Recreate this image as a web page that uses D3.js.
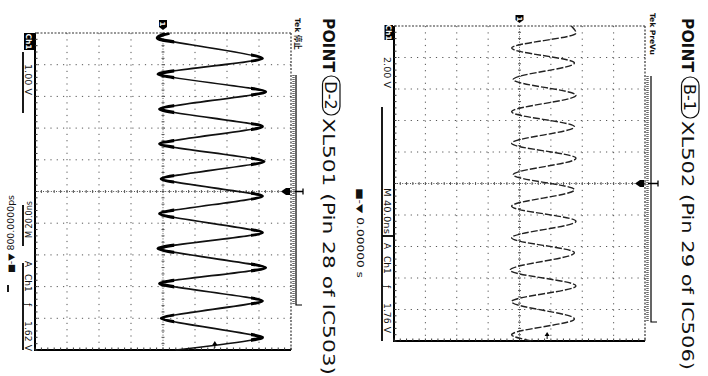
<!DOCTYPE html>
<html><head><meta charset="utf-8">
<script src="https://cdn.jsdelivr.net/npm/d3@7"></script>
<style>html,body{margin:0;padding:0;background:#fff;} svg{display:block;}</style>
</head><body>
<svg id="c" width="708" height="376"></svg>
<script>
// ---- data ----
// Point B-1 : XL502, 40 ns/div, 2 V/div, trigger 1.76 V
const b1TimeNs = [0, 9, 28, 47, 68, 88, 109, 128, 149, 168, 189, 208, 229, 248, 269, 288, 310, 330, 350, 372, 392, 400];
const b1Volts  = [3.3, 3.6, -0.5, 3.5, -0.4, 3.6, -0.5, 3.5, -0.5, 3.6, -0.4, 3.5, -0.5, 3.6, -0.5, 3.5, -0.6, 3.6, -0.5, 3.5, -0.5, 0.8];
// Point D-2 : XL501, 20 ns/div, 1 V/div, trigger 1.62 V
const d2TimeNs = [0, 4, 16, 26, 37, 48, 59, 70, 81, 92, 103, 114, 126, 136, 148, 158, 169, 180, 192, 200];
const d2Volts  = [0.2, -0.1, 3.1, -0.15, 3.2, -0.1, 3.1, -0.1, 3.15, -0.05, 3.1, -0.1, 3.1, -0.15, 3.2, -0.1, 3.1, -0.05, 3.1, 0.4];
const titlesPoint = ['B-1', 'D-2'];
const titlesText = ['XL502 (Pin 29 of IC506)', 'XL501 (Pin 28 of IC503)'];
const statusText = ['Tek PreVu', 'Tek 停止'];
const voltsPerDiv = [2, 1];
const nsPerDiv = [40, 20];
const trigLevels = [1.76, 1.62];
const scaleLabels = ['2.00 V', '1.00 V'];
const timebaseLabels = ['M 40.0ns', 'M 20.0ns'];
const trigLevelLabels = ['1.76 V', '1.62 V'];
const delayLabels = ['■-▼ 0.00000 s', '■-▼ 800.0000ps'];

const svg = d3.select('#c');
const SANS = "'DejaVu Sans', 'Liberation Sans', sans-serif";

function panel(i, L) {
  const traceT = i === 0 ? b1TimeNs : d2TimeNs;
  const traceV = i === 0 ? b1Volts : d2Volts;
  const W = L.W, H = L.H;
  const tMax = nsPerDiv[i] * 10, vMax = voltsPerDiv[i] * 4;
  const g = svg.append('g').attr('transform', `translate(${L.right},${L.top}) rotate(90)`);
  const x = d3.scaleLinear().domain([0, tMax]).range([0, W]);
  const y = d3.scaleLinear().domain([-vMax, vMax]).range([H, 0]);

  const tDivs = d3.range(0, 11).map(k => k * nsPerDiv[i]);
  const vDivs = d3.range(-4, 5).map(k => k * voltsPerDiv[i]);
  const tMinor = d3.range(0, 51).map(k => k * nsPerDiv[i] / 5);
  const vMinor = d3.range(-20, 21).map(k => k * voltsPerDiv[i] / 5);

  // interior dotted grid
  g.selectAll('.gv').data(tDivs.slice(1, 10).filter((d, k) => k !== 4)).enter().append('line')
    .attr('x1', d => x(d)).attr('x2', d => x(d)).attr('y1', 0).attr('y2', H)
    .attr('stroke', '#555').attr('stroke-width', 1).attr('stroke-dasharray', '1.2 5.1');
  g.selectAll('.gh').data(vDivs.slice(1, 8).filter((d, k) => k !== 3)).enter().append('line')
    .attr('x1', 0).attr('x2', W).attr('y1', d => y(d)).attr('y2', d => y(d))
    .attr('stroke', '#555').attr('stroke-width', 1).attr('stroke-dasharray', '1.2 5.1');
  // center lines
  g.append('line').attr('x1', x(tMax / 2)).attr('x2', x(tMax / 2)).attr('y1', 0).attr('y2', H)
    .attr('stroke', '#555').attr('stroke-dasharray', '1 1.6');
  g.append('line').attr('x1', 0).attr('x2', W).attr('y1', y(0)).attr('y2', y(0))
    .attr('stroke', '#555').attr('stroke-dasharray', '1 1.6');
  g.selectAll('.ct').data(tMinor).enter().append('line')
    .attr('x1', d => x(d)).attr('x2', d => x(d)).attr('y1', y(0) - 1.5).attr('y2', y(0) + 1.5)
    .attr('stroke', '#555');
  g.selectAll('.cv').data(vMinor).enter().append('line')
    .attr('y1', d => y(d)).attr('y2', d => y(d)).attr('x1', x(tMax / 2) - 1.5).attr('x2', x(tMax / 2) + 1.5)
    .attr('stroke', '#555');
  // frame: dotted top/left (local), solid bottom/right (local)
  g.append('line').attr('x1', 0).attr('x2', W).attr('y1', 0).attr('y2', 0)
    .attr('stroke', '#333').attr('stroke-width', 1.2).attr('stroke-dasharray', '2 1.5');
  g.append('line').attr('x1', 0).attr('x2', 0).attr('y1', 0).attr('y2', H)
    .attr('stroke', '#333').attr('stroke-width', 1.2).attr('stroke-dasharray', '2 1.5');
  g.append('line').attr('x1', 0).attr('x2', W + 1).attr('y1', H).attr('y2', H)
    .attr('stroke', '#000').attr('stroke-width', 2);
  g.append('line').attr('x1', W).attr('x2', W).attr('y1', 0).attr('y2', H + 1)
    .attr('stroke', '#000').attr('stroke-width', 2);
  g.selectAll('.bt').data(tMinor).enter().append('line')
    .attr('x1', d => x(d)).attr('x2', d => x(d)).attr('y1', H - 2.5).attr('y2', H)
    .attr('stroke', '#333').attr('stroke-width', 1);
  g.selectAll('.rt').data(vMinor).enter().append('line')
    .attr('y1', d => y(d)).attr('y2', d => y(d)).attr('x1', W - 2.5).attr('x2', W)
    .attr('stroke', '#333').attr('stroke-width', 1);

  // trace
  const pts = traceT.map((t, k) => [t, traceV[k]]);
  const line = d3.line().x(d => x(d[0])).y(d => y(d[1]))
    .curve(i === 0 ? d3.curveMonotoneX : d3.curveCardinal.tension(0.45));
  const tr = g.append('path').datum(pts).attr('d', line).attr('fill', 'none')
    .attr('stroke', i === 0 ? '#222' : '#111').attr('stroke-width', i === 0 ? 1.4 : 1.7)
    .attr('stroke-linejoin', 'round');
  if (i === 0) tr.attr('stroke-dasharray', '7 2');
  if (i === 1) {
    const clipId = 'clipExt' + i;
    const cp = svg.append('clipPath').attr('id', clipId);
    cp.append('rect').attr('x', 0).attr('width', W).attr('y', y(3.4)).attr('height', y(2.75) - y(3.4));
    cp.append('rect').attr('x', 0).attr('width', W).attr('y', y(0.35)).attr('height', y(-0.4) - y(0.35));
    g.append('path').datum(pts).attr('d', line).attr('fill', 'none').attr('stroke', '#000')
      .attr('stroke-width', 3.4).attr('clip-path', `url(#${clipId})`);
  }

  // ground marker
  const gy = y(0);
  g.append('path').attr('d', `M${L.gnd0},${gy - 4}L${L.gnd1 - 3},${gy - 4}L${L.gnd1},${gy}L${L.gnd1 - 3},${gy + 4}L${L.gnd0},${gy + 4}Z`)
    .attr('fill', '#000');
  g.append('text').attr('x', L.gnd0 + 1.5).attr('y', gy + 3).attr('fill', '#fff')
    .attr('font-family', SANS).attr('font-size', 7).attr('font-weight', 'bold').text('1');

  // trigger level marker
  const ty = y(trigLevels[i]);
  g.append('path').attr('d', `M${W - 9},${ty}L${W - 5},${ty - 2.5}L${W - 5},${ty + 2.5}Z`).attr('fill', '#000');
  g.append('line').attr('x1', W - 6).attr('x2', W - 2).attr('y1', ty).attr('y2', ty).attr('stroke', '#000');

  // trigger position marker
  const tc = x(tMax / 2);
  g.append('rect').attr('x', tc - 3.5).attr('y', 1).attr('width', 7).attr('height', 4).attr('fill', '#000');
  g.append('path').attr('d', `M${tc - 3.5},${5}L${tc + 3.5},${5}L${tc},${10}Z`).attr('fill', '#000');
  g.append('path').attr('d', `M${tc - 3},${-L.brV - 7}L${tc + 3},${-L.brV - 7}M${tc},${-L.brV - 7}L${tc},${-L.brV + 3}`)
    .attr('stroke', '#000').attr('stroke-width', 1.3).attr('fill', 'none');

  // record view strip + bracket
  g.append('line').attr('x1', L.br0).attr('x2', L.br1).attr('y1', -2.5).attr('y2', -2.5)
    .attr('stroke', '#666').attr('stroke-width', 2.5).attr('stroke-dasharray', '1 1');
  g.append('path').attr('d', `M${L.br0},${-L.brV}L${L.br1},${-L.brV}L${L.br1},${-L.brV - 6}`)
    .attr('stroke', '#000').attr('stroke-width', 1.2).attr('fill', 'none');

  // status
  g.append('text').attr('x', L.tek0).attr('y', L.tekV).attr('font-family', "'DejaVu Sans','Noto Sans CJK SC',sans-serif")
    .attr('font-size', 7.5).attr('font-weight', 'bold').attr('fill', '#111').text(statusText[i]);

  // readouts below graticule
  const rf = g.append('g').attr('font-family', SANS).attr('font-size', 9).attr('fill', '#111');
  g.append('rect').attr('x', L.ch0).attr('y', L.chV0).attr('width', L.chLen).attr('height', L.chH).attr('fill', '#000');
  g.append('text').attr('x', L.ch0 + L.chLen / 2).attr('y', L.chV0 + L.chH - 1.5).attr('text-anchor', 'middle')
    .attr('font-family', SANS).attr('font-size', 7.5).attr('font-weight', 'bold').attr('fill', '#fff').text('Ch1');
  rf.append('text').attr('x', L.sc0).attr('y', L.rdV).attr('textLength', 31).attr('lengthAdjust', 'spacingAndGlyphs')
    .text(scaleLabels[i]);
  const tbT = rf.append('text').attr('x', L.tb0).attr('y', L.rdV).attr('textLength', L.tbLen)
    .attr('lengthAdjust', 'spacingAndGlyphs').text(timebaseLabels[i]);
  if (L.flip) {
    const cx = L.tb0 + L.tbLen / 2, cy = L.rdV - 3.5;
    tbT.attr('transform', `rotate(180,${cx},${cy})`);
  }
  rf.append('text').attr('x', L.trg0).attr('y', L.rdV).text('A');
  rf.append('text').attr('x', L.trg0 + 13).attr('y', L.rdV).text('Ch1');
  rf.append('text').attr('x', L.trg0 + 42).attr('y', L.rdV).text('ƒ');
  rf.append('text').attr('x', L.trg0 + 60).attr('y', L.rdV).attr('textLength', 30).attr('lengthAdjust', 'spacingAndGlyphs')
    .text(trigLevelLabels[i]);
  L.lines.forEach(s => g.append('line').attr('x1', s[0]).attr('x2', s[1]).attr('y1', s[2]).attr('y2', s[3])
    .attr('stroke', '#000').attr('stroke-width', 1.8));
  const dl = rf.append('text').attr('x', L.dl0).attr('y', L.dlV).attr('textLength', L.dlLen)
    .attr('lengthAdjust', 'spacingAndGlyphs').attr('font-size', 8.5).text(delayLabels[i]);
  if (L.flip) {
    const cx = L.dl0 + L.dlLen / 2, cy = L.dlV - 3.5;
    dl.attr('transform', `rotate(180,${cx},${cy})`);
  }

  // title
  const tg = g.append('g').attr('fill', '#111');
  tg.append('text').attr('x', L.p0).attr('y', L.tV).attr('font-family', SANS).attr('font-size', 16.5)
    .attr('font-weight', 'bold').attr('textLength', 54).attr('lengthAdjust', 'spacingAndGlyphs').text('POINT');
  tg.append('rect').attr('x', L.c0).attr('y', L.tV - 17).attr('width', L.cLen).attr('height', 17.5).attr('rx', 8.5)
    .attr('fill', 'none').attr('stroke', '#111').attr('stroke-width', 1.2);
  tg.append('text').attr('x', L.c0 + L.cLen / 2).attr('y', L.tV - 1.8).attr('text-anchor', 'middle')
    .attr('font-family', SANS).attr('font-size', 16).text(titlesPoint[i]);
  tg.append('text').attr('x', L.x0).attr('y', L.tV).attr('font-family', SANS).attr('font-size', 16.5)
    .attr('textLength', L.xLen).attr('lengthAdjust', 'spacingAndGlyphs').text(titlesText[i]);
}

// B-1 : graticule screen x 394..645, y 26..341
panel(0, {
  right: 645, top: 26, W: 315, H: 251,
  gnd0: -11, gnd1: -3,
  br0: 50, br1: 296, brV: 6,
  tek0: -13, tekV: -5,
  ch0: -1, chV0: 252, chLen: 15, chH: 8.5,
  rdV: 261, sc0: 31, tb0: 162, tbLen: 46, trg0: 217, flip: false,
  lines: [[81, 315, 263, 263], [210, 210, 251, 263]],
  dl0: 162, dlV: 288, dlLen: 90,
  p0: -8, tV: -37, c0: 51, cLen: 41, x0: 95, xLen: 249
});
// D-2 : graticule screen x 35..291, y 33..350
panel(1, {
  right: 291, top: 33, W: 317, H: 256,
  gnd0: -13, gnd1: -3,
  br0: 42, br1: 272, brV: 5,
  tek0: -15, tekV: -4,
  ch0: 0, chV0: 257, chLen: 17, chH: 10,
  rdV: 266, sc0: 31, tb0: 168, tbLen: 37, trg0: 228, flip: true,
  lines: [[19, 80, 268, 268], [172, 213, 268, 268], [230, 317, 268, 268], [252, 259, 283, 283]],
  dl0: 162, dlV: 284, dlLen: 78,
  p0: -15, tV: -32, c0: 43, cLen: 39, x0: 85, xLen: 257
});
</script>
</body></html>
